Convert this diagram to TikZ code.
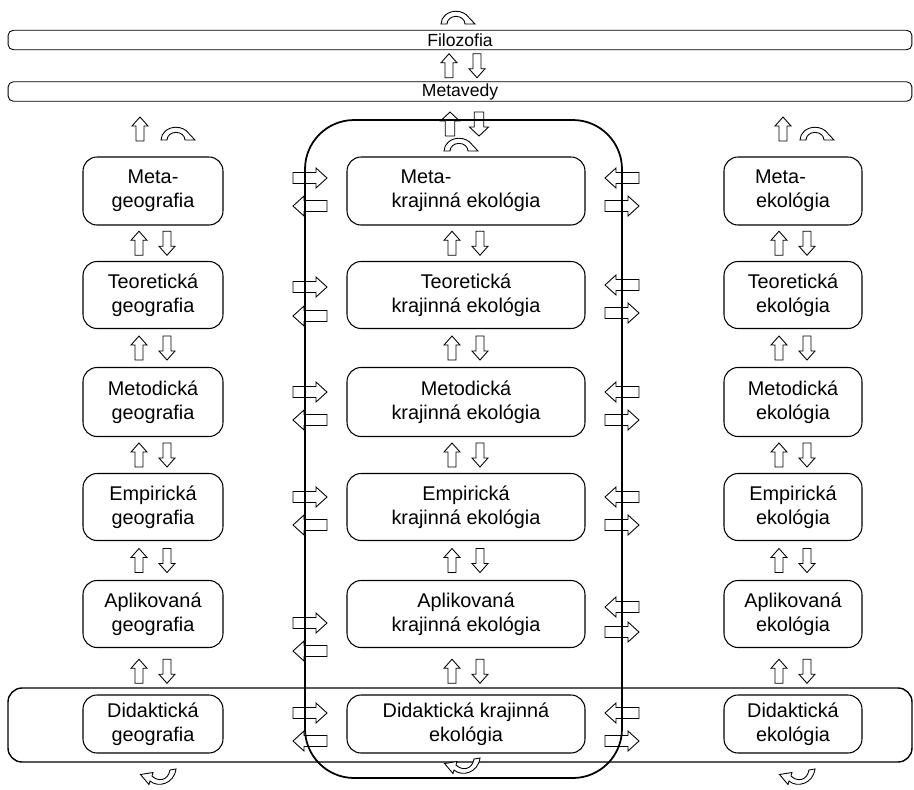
\documentclass[tikz,border=0pt]{standalone}
\usepackage{fontspec}
\setmainfont{Liberation Sans}
\usetikzlibrary{calc}
\tikzset{level box/.style={draw, rounded corners=8pt, align=center, line width=0.6pt,
   font=\fontsize{11.3}{13.5}\selectfont},
 bar/.style={draw, rounded corners=3pt, minimum width=18.08cm, minimum height=0.39cm,
   inner sep=0pt, line width=0.5pt, font=\fontsize{10}{12}\selectfont},
 vert arrow/.pic={\draw[fill=white, line width=0.5pt] (-12,-4) -- (3,-4) -- (3,-8) -- (12,0) -- (3,8) -- (3,4) -- (-12,4) -- cycle;},
 side arrow/.pic={\draw[fill=white, line width=0.5pt] (-17,-5.5) -- (6,-5.5) -- (6,-10) -- (17,0) -- (6,10) -- (6,5.5) -- (-17,5.5) -- cycle;},
 hump/.pic={\draw[fill=white, line width=0.5pt, yscale=0.85] (-15,0) arc[start angle=180, end angle=30, radius=15] -- (19,0) -- (9,0) arc[start angle=0, end angle=180, radius=9] -- cycle;},
 turn/.pic={\draw[fill=white, line width=0.5pt] (18,9) .. controls (16,-6) and (0,-10) .. (-8,-3) -- (-9,-6.5) -- (-17.5,3.5) -- (-5,5.5) -- (-6,2) .. controls (0,-4) and (10,-3) .. (12,8) -- cycle;},
}

\begin{document}
\begin{tikzpicture}[x=0.02cm, y=0.02cm]
    \useasboundingbox (0,0) rectangle (914,-789);

    \node[bar] (filo) at (460,-40) {Filozofia};
    \node[bar] (meta) at (460,-91.5) {Metavedy};
    \draw[line width=0.8pt, rounded corners=8pt] (8,-688) rectangle (912,-762);

    \foreach \i/\y/\h/\a/\b/\c in {1/191/68/{Meta-\\geografia}/{Meta-\hspace*{1.6cm}\\krajinná ekológia}/{Meta-\hspace*{0.5cm}\\ekológia},
        2/295/67/{Teoretická\\geografia}/{Teoretická\\krajinná ekológia}/{Teoretická\\ekológia},
        3/402/69/{Metodická\\geografia}/{Metodická\\krajinná ekológia}/{Metodická\\ekológia},
        4/507/67/{Empirická\\geografia}/{Empirická\\krajinná ekológia}/{Empirická\\ekológia},
        5/614/67/{Aplikovaná\\geografia}/{Aplikovaná\\krajinná ekológia}/{Aplikovaná\\ekológia},
        6/724/58/{Didaktická\\geografia}/{Didaktická krajinná\\ekológia}/{Didaktická\\ekológia}} {
        \node[level box, minimum width=2.8cm, minimum height=\h*0.02cm] (geo\i) at (153,-\y) {\a};
        \node[level box, minimum width=4.76cm, minimum height=\h*0.02cm] (kra\i) at (466,-\y) {\b};
        \node[level box, minimum width=2.76cm, minimum height=\h*0.02cm] (eko\i) at (793,-\y) {\c};
    }

    % up and down between the levels
    \foreach \i [evaluate=\i as \j using int(\i+1)] in {1,...,5} {
        \foreach \n in {geo, kra, eko} {
            \pic[rotate=90] at ($(\n\i.south)!0.5!(\n\j.north)+(-14,0)$) {vert arrow};
            \pic[rotate=-90] at ($(\n\i.south)!0.5!(\n\j.north)+(14,0)$) {vert arrow};
        }
    }
    \pic[rotate=90] at ($(filo.south)!0.5!(meta.north)+(-11,0)$) {vert arrow};
    \pic[rotate=-90] at ($(filo.south)!0.5!(meta.north)+(17,0)$) {vert arrow};
    \pic[rotate=90, yscale=1.2] at (450,-124) {vert arrow};
    \pic[rotate=-90, yscale=1.2] at (479,-124) {vert arrow};
    \pic[rotate=90] at (140,-129) {vert arrow};
    \pic[rotate=90] at (783,-129) {vert arrow};

    \pic at (456,-24) {hump};
    \pic at (176,-140) {hump};
    \pic at (459,-151) {hump};
    \pic at (815,-140) {hump};

    \pic at (158,-778) {turn};
    \pic at (462,-767) {turn};
    \pic at (797,-778) {turn};

    % arrows across the frame
    \foreach \p/\q/\r/\s in {178/206/178/206, 287/316/285/313, 392/420/392/420,
        497/525/497/525, 623/651/607/632, 713/741/713/741} {
        \pic at (310,-\p) {side arrow};
        \pic[rotate=180] at (310,-\q) {side arrow};
        \pic[rotate=180] at (622,-\r) {side arrow};
        \pic at (622,-\s) {side arrow};
    }

    \draw[line width=1pt, rounded corners=28pt] (305,-120) rectangle (622,-778);
\end{tikzpicture}
\end{document}
